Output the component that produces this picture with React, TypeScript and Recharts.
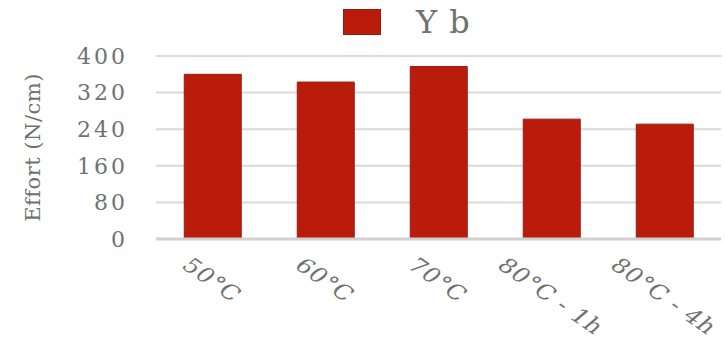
import React from "react";
import { BarChart, Bar, XAxis, YAxis, CartesianGrid, Legend } from "recharts";

const categories = ["50°C", "60°C", "70°C", "80°C - 1h", "80°C - 4h"];
const ybValues = [360, 343, 377, 262, 251];
const yTicks = [0, 80, 160, 240, 320, 400];

const data = categories.map((name, i) => ({ name, Yb: ybValues[i] }));

const TEXT = "#6F736F";
const BAR = "#BA1C0B";
const FONT = "'DejaVu Serif', serif";

let canvas: HTMLCanvasElement | null = null;
function textWidth(s: string, size: number, spacing: number) {
  if (!canvas) canvas = document.createElement("canvas");
  const ctx = canvas.getContext("2d")!;
  ctx.font = `${size}px 'DejaVu Serif'`;
  return ctx.measureText(s).width + spacing * s.length;
}

// labels in the source are tilted and stretched sideways
const XTick = ({ x, y, payload }: any) => {
  const size = 20;
  const spacing = 0.7;
  const sx = 1.3;
  const a = (42 * Math.PI) / 180;
  const L = textWidth(payload.value, size, spacing);
  const h = size * 0.73;
  const w = sx * L * Math.cos(a) + sx * h * Math.sin(a);
  const x0 = x - w / 2;
  const y0 = y + 20;
  return (
    <text transform={`translate(${x0} ${y0}) scale(${sx} 1) rotate(42)`} textAnchor="start"
      fill={TEXT} fontSize={size} fontFamily={FONT} letterSpacing={spacing}>
      {payload.value}
    </text>
  );
};

const YLabel = ({ viewBox }: any) => {
  const cx = viewBox.x + 33;
  const cy = viewBox.y + viewBox.height / 2;
  return (
    <text x={cx} y={cy} transform={`rotate(-90 ${cx} ${cy})`} textAnchor="middle"
      dominantBaseline="central" fill={TEXT} fontSize={21} fontFamily={FONT} letterSpacing={0.5}>
      Effort (N/cm)
    </text>
  );
};

const LegendBox = () => (
  <div style={{ display: "flex", alignItems: "center", paddingLeft: 343, paddingTop: 8 }}>
    <div style={{ width: 38, height: 26, background: BAR, border: "1px solid #9A1A0E", boxSizing: "border-box" }} />
    <span style={{ marginLeft: 35, fontFamily: FONT, fontSize: 32, color: TEXT, letterSpacing: 1, lineHeight: "28px" }}>
      Y b
    </span>
  </div>
);

export default function App() {
  return (
    <div style={{ position: "absolute", left: 0, top: 0, width: 725, height: 342, background: "#fff" }}>
      <BarChart width={725} height={342} data={data} barCategoryGap="25%"
        margin={{ top: 56, right: 4, bottom: 73, left: 0 }}>
        <CartesianGrid vertical={false} stroke="#D9D9D9" strokeWidth={2} />
        <XAxis dataKey="name" tickLine={false} axisLine={{ stroke: "#D0D0D0", strokeWidth: 3 }}
          interval={0} tick={<XTick />} />
        <YAxis width={156} domain={[0, 400]} ticks={yTicks} tickLine={false} axisLine={false}
          tickSize={0} tickMargin={28} tick={{ fill: TEXT, fontSize: 22, fontFamily: FONT, letterSpacing: 3 }}
          label={<YLabel />} />
        <Legend layout="horizontal" verticalAlign="middle" align="center" content={<LegendBox />}
          wrapperStyle={{ top: 0, left: 0, width: 725 }} />
        <Bar dataKey="Yb" fill={BAR} stroke="#9A1A0E" strokeWidth={1} isAnimationActive={false} />
      </BarChart>
    </div>
  );
}
